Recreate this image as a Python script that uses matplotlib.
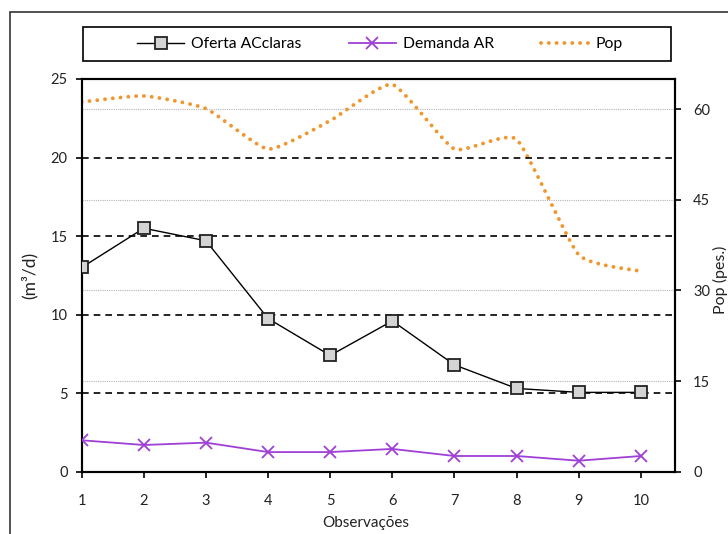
import numpy as np
import matplotlib
matplotlib.use("Agg")
import matplotlib.pyplot as plt
from matplotlib.lines import Line2D
from matplotlib.patches import Rectangle

plt.rcParams['font.family'] = ['Lato', 'DejaVu Sans']

# Data
observacoes = [1, 2, 3, 4, 5, 6, 7, 8, 9, 10]
oferta_acclaras = [13.0, 15.5, 14.7, 9.75, 7.4, 9.6, 6.8, 5.3, 5.05, 5.05]
demanda_ar = [2.0, 1.7, 1.85, 1.25, 1.25, 1.45, 1.0, 1.0, 0.7, 1.0]
pop = [61.2, 62.2, 60.1, 53.4, 58.1, 64.1, 53.4, 55.0, 35.9, 33.2]

left_ticks = [0, 5, 10, 15, 20, 25]
right_ticks = [0, 15, 30, 45, 60]

W, H = 728, 534
fig = plt.figure(figsize=(W / 100, H / 100), dpi=100)


def fx(px):
    return px / W


def fy(py):
    return 1 - py / H


# plot area in pixel coordinates
x0, x1 = 81.7, 675.0
y_top, y_bot = 79.0, 471.7
ax = fig.add_axes([x0 / W, (H - y_bot) / H, (x1 - x0) / W, (y_bot - y_top) / H])
ax2 = ax.twinx()

ax.set_xlim(1, 10.55)
ax.set_ylim(0, 25)
ax2.set_ylim(0, 65)

ax.set_xticks(observacoes)
ax.set_yticks(left_ticks)
ax2.set_yticks(right_ticks)

# gridlines
for v in left_ticks[1:-1]:
    ax.axhline(v, color='black', lw=1.2, linestyle=(0, (4, 3)), zorder=1)
for v in right_ticks[1:]:
    ax2.axhline(v, color='#b5b5b5', lw=0.8, linestyle=(0, (1, 1)), zorder=1)

for a in (ax, ax2):
    for s in a.spines.values():
        s.set_linewidth(1.5)
        s.set_color('black')

tick_kw = dict(labelsize=10.5, direction='out', length=4, width=1.2, colors='black')
ax.tick_params(axis='y', pad=6, **tick_kw)
ax.tick_params(axis='x', pad=12, **tick_kw)
ax2.tick_params(axis='y', pad=9, **tick_kw)
for lbl in ax.get_xticklabels() + ax.get_yticklabels() + ax2.get_yticklabels():
    lbl.set_color('#222222')

ax.set_zorder(ax2.get_zorder() + 1)
ax.patch.set_visible(False)

# Oferta and Demanda on the left axis
ax.plot(observacoes, oferta_acclaras, color='black', lw=1.0,
        marker='s', markersize=8, markerfacecolor='#d4d4d4',
        markeredgecolor='#222222', markeredgewidth=1.3, zorder=5)
purple = '#9f3fd6'
ax.plot(observacoes, demanda_ar, color=purple, lw=1.3,
        marker='x', markersize=9, markeredgewidth=1.3, zorder=4)

# Pop on the right axis, drawn as a lightly smoothed Bezier curve through the points
orange = '#f0962e'
tension = 1.0 / 12.0
pts = ax2.transData.transform(np.column_stack([observacoes, pop]))
ext = np.vstack([pts[0], pts, pts[-1]])
curve = []
tt = np.linspace(0, 1, 40)
for i in range(len(pts) - 1):
    p0, p1, p2, p3 = ext[i], ext[i + 1], ext[i + 2], ext[i + 3]
    c1 = p1 + (p2 - p0) * tension
    c2 = p2 - (p3 - p1) * tension
    seg = ((1 - tt) ** 3)[:, None] * p1 + (3 * (1 - tt) ** 2 * tt)[:, None] * c1 \
        + (3 * (1 - tt) * tt ** 2)[:, None] * c2 + (tt ** 3)[:, None] * p2
    curve.append(seg if i == 0 else seg[1:])
curve = ax2.transData.inverted().transform(np.vstack(curve))
ax2.plot(curve[:, 0], curve[:, 1], color=orange, lw=2.8,
         linestyle=(0, (0.01, 2.0)), dash_capstyle='round', zorder=3)

# axis titles
fig.text(fx(29), fy(275), '(m³/d)', rotation=90, ha='center', va='center',
         fontsize=12.5, color='#222222')
fig.text(fx(720), fy(280), 'Pop (pes.)', rotation=90, ha='center', va='center',
         fontsize=11.5, color='#222222')
fig.text(fx(366), fy(523), 'Observações', ha='center', va='center',
         fontsize=11, color='#222222')

# legend
handles = [
    Line2D([], [], color='black', lw=1.0, marker='s', markersize=8,
           markerfacecolor='#d4d4d4', markeredgecolor='#222222', markeredgewidth=1.3),
    Line2D([], [], color=purple, lw=1.3, marker='x', markersize=9, markeredgewidth=1.3),
    Line2D([], [], color=orange, lw=2.8, linestyle=(0, (0.01, 2.0)), dash_capstyle='round'),
]
labels = ['Oferta ACclaras', 'Demanda AR', 'Pop']
leg = fig.legend(handles, labels, ncol=3, loc='center',
                 bbox_to_anchor=(fx(380), fy(44)), fontsize=11.3,
                 frameon=False, handlelength=3.0, handletextpad=0.45,
                 columnspacing=3.0, borderpad=0.3, numpoints=1)
fig.patches.append(Rectangle((fx(83), fy(61)), (671 - 83) / W, (61 - 27) / H,
                             transform=fig.transFigure, fill=False,
                             edgecolor='black', lw=1.2))

# chart border
fig.patches.append(Rectangle((fx(10), -0.2), 1.2, (H - 12) / H + 0.2,
                             transform=fig.transFigure, fill=False,
                             edgecolor='#333333', lw=1.2))

fig.savefig('out.png', dpi=100)
